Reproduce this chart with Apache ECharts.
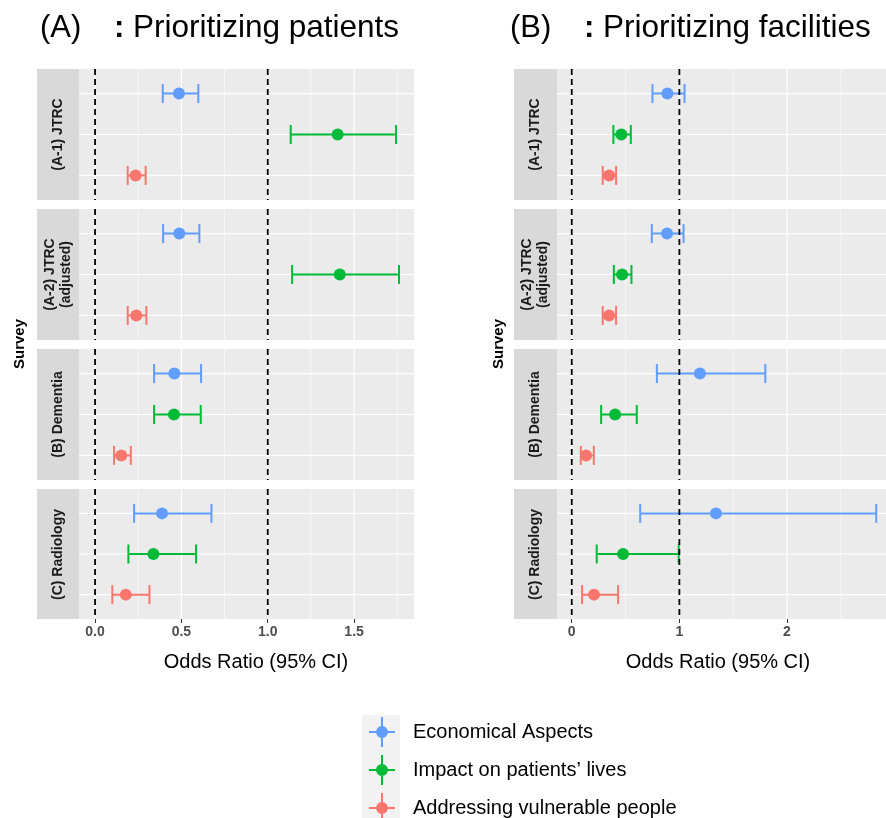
<!DOCTYPE html>
<html>
<head>
<meta charset="utf-8">
<script src="https://cdn.jsdelivr.net/npm/echarts@6/dist/echarts.min.js"></script>
<style>html,body{margin:0;padding:0;background:#fff}#c{width:886px;height:818px}</style>
</head>
<body>
<div id="c"></div>
<script>
// ---------- data ----------
const categories = ['Economical Aspects', 'Impact on patients’ lives', 'Addressing vulnerable people'];
const surveys = ['(A-1) JTRC', '(A-2) JTRC\n(adjusted)', '(B) Dementia', '(C) Radiology'];
const panelLetters = ['(A)', '(B)'];
const panelNames = ['Prioritizing patients', 'Prioritizing facilities'];
// rows: surveys, columns: categories
const patientsOR    = [[0.486, 1.405, 0.235], [0.488, 1.417, 0.239], [0.459, 0.457, 0.152], [0.388, 0.338, 0.178]];
const patientsLower = [[0.392, 1.133, 0.189], [0.394, 1.141, 0.189], [0.342, 0.342, 0.110], [0.226, 0.193, 0.100]];
const patientsUpper = [[0.598, 1.743, 0.293], [0.604, 1.760, 0.297], [0.614, 0.612, 0.207], [0.674, 0.585, 0.315]];
const facilitiesOR    = [[0.889, 0.461, 0.347], [0.886, 0.468, 0.347], [1.191, 0.403, 0.133], [1.340, 0.477, 0.207]];
const facilitiesLower = [[0.750, 0.387, 0.288], [0.744, 0.391, 0.288], [0.791, 0.273, 0.084], [0.636, 0.232, 0.096]];
const facilitiesUpper = [[1.048, 0.549, 0.412], [1.039, 0.555, 0.412], [1.799, 0.604, 0.205], [2.829, 0.994, 0.431]];
const patientsTicks = [0, 0.5, 1, 1.5];
const patientsMinor = [0.25, 0.75, 1.25, 1.75];
const facilitiesTicks = [0, 1, 2];
const facilitiesMinor = [0.5, 1.5, 2.5];
const refLines = [0, 1];
const xTitle = 'Odds Ratio (95% CI)';
const yTitle = 'Survey';

// ---------- layout / style ----------
const colors = ['#619CFF', '#00BA38', '#F8766D'];
const FONT = 'Liberation Sans, Arial, Noto Sans CJK JP, sans-serif';
const facetTops = [69, 209, 349, 489];
const facetH = 131;
const panels = [
  {left: 79, width: 335, stripLeft: 37, min: -0.093, max: 1.847, OR: patientsOR, lo: patientsLower, hi: patientsUpper,
   ticks: patientsTicks, minor: patientsMinor, fmt: v => v.toFixed(1), titleX: 40, xTitleX: 256, yTitleX: 20},
  {left: 557, width: 329, stripLeft: 514, min: -0.137, max: 2.92, OR: facilitiesOR, lo: facilitiesLower, hi: facilitiesUpper,
   ticks: facilitiesTicks, minor: facilitiesMinor, fmt: v => String(v), titleX: 510, xTitleX: 718, yTitleX: 499}
];

const grid = [], xAxis = [], yAxis = [], series = [], graphic = [];

function vLineRender(color, width, dash) {
  return function (params, api) {
    const cs = params.coordSys;
    const x = api.coord([api.value(0), 2])[0];
    return {type: 'line', shape: {x1: x, y1: cs.y, x2: x, y2: cs.y + cs.height},
      style: {stroke: color, lineWidth: width, lineDash: dash || null}};
  };
}
function hLineRender(params, api) {
  const cs = params.coordSys;
  const y = api.coord([0, api.value(1)])[1];
  return {type: 'line', shape: {x1: cs.x, y1: y, x2: cs.x + cs.width, y2: y},
    style: {stroke: '#ffffff', lineWidth: 1.2}};
}
function errRender(params, api) {
  const y = api.value(2);
  const p1 = api.coord([api.value(0), y]);
  const p2 = api.coord([api.value(1), y]);
  const h = 9.5;
  const style = {stroke: api.visual('color'), lineWidth: 2};
  return {type: 'group', children: [
    {type: 'line', shape: {x1: p1[0], y1: p1[1], x2: p2[0], y2: p2[1]}, style},
    {type: 'line', shape: {x1: p1[0], y1: p1[1] - h, x2: p1[0], y2: p1[1] + h}, style},
    {type: 'line', shape: {x1: p2[0], y1: p2[1] - h, x2: p2[0], y2: p2[1] + h}, style}
  ]};
}

panels.forEach((P, p) => {
  surveys.forEach((s, f) => {
    const gi = p * 4 + f;
    const last = f === surveys.length - 1;
    grid.push({left: P.left, top: facetTops[f], width: P.width, height: facetH - (last ? 1 : 0),
      show: true, backgroundColor: '#ebebeb', borderWidth: 0, containLabel: false});
    xAxis.push({type: 'value', gridIndex: gi, min: P.min, max: P.max,
      axisLine: {show: false}, splitLine: {show: false},
      axisTick: {show: last, length: 4, lineStyle: {color: '#333333', width: 1}, customValues: P.ticks},
      axisLabel: {show: last, customValues: P.ticks, formatter: v => P.fmt(v), margin: 6,
        fontFamily: FONT, fontSize: 14, fontWeight: 'bold', color: '#4d4d4d'}});
    yAxis.push({type: 'value', gridIndex: gi, min: 0.4, max: 3.6, inverse: true,
      axisLine: {show: false}, axisTick: {show: false}, axisLabel: {show: false}, splitLine: {show: false}});
    const ax = {xAxisIndex: gi, yAxisIndex: gi, silent: true, animation: false};
    series.push(Object.assign({type: 'custom', z: 1, renderItem: vLineRender('#ffffff', 0.6),
      data: P.minor.map(v => [v, 2])}, ax));
    series.push(Object.assign({type: 'custom', z: 1, renderItem: vLineRender('#ffffff', 1.2),
      data: P.ticks.map(v => [v, 2])}, ax));
    series.push(Object.assign({type: 'custom', z: 1, renderItem: hLineRender,
      data: categories.map((c, i) => [0, i + 1])}, ax));
    categories.forEach((c, i) => {
      series.push(Object.assign({type: 'custom', name: c, z: 2, renderItem: errRender,
        itemStyle: {color: colors[i]}, encode: {x: [0, 1], y: 2},
        data: [[P.lo[f][i], P.hi[f][i], i + 1]]}, ax));
    });
    series.push(Object.assign({type: 'custom', z: 3, renderItem: vLineRender('#000000', 1.8, [6, 4]),
      data: refLines.map(v => [v, 2])}, ax));
    categories.forEach((c, i) => {
      series.push(Object.assign({type: 'scatter', name: c, z: 4, symbol: 'circle', symbolSize: 12,
        itemStyle: {color: colors[i], opacity: 1},
        data: [[P.OR[f][i], i + 1]]}, ax));
    });
    // strip
    graphic.push({type: 'rect', silent: true, z: 0,
      shape: {x: P.stripLeft, y: facetTops[f], width: P.left - P.stripLeft, height: facetH - (last ? 1 : 0)},
      style: {fill: '#d9d9d9'}});
    graphic.push({type: 'text', silent: true, z: 1,
      x: (P.stripLeft + P.left) / 2, y: facetTops[f] + facetH / 2, rotation: Math.PI / 2,
      style: {text: s, fill: '#1a1a1a', font: 'bold 14px ' + FONT, align: 'center', verticalAlign: 'middle', lineHeight: 16}});
  });
  // panel heading: letter, colon, name
  graphic.push({type: 'text', silent: true, x: P.titleX, y: 28,
    style: {text: panelLetters[p], fill: '#000', font: '31px ' + FONT, align: 'left', verticalAlign: 'middle'}});
  graphic.push({type: 'text', silent: true, x: P.titleX + 74, y: 28,
    style: {text: ':', fill: '#000', font: 'bold 31px ' + FONT, align: 'left', verticalAlign: 'middle'}});
  graphic.push({type: 'text', silent: true, x: P.titleX + 93, y: 28,
    style: {text: panelNames[p], fill: '#000', font: '31.5px ' + FONT, align: 'left', verticalAlign: 'middle'}});
  graphic.push({type: 'text', silent: true, x: P.xTitleX, y: 662,
    style: {text: xTitle, fill: '#000', font: '20px ' + FONT, align: 'center', verticalAlign: 'middle'}});
  graphic.push({type: 'text', silent: true, x: P.yTitleX, y: 344, rotation: Math.PI / 2,
    style: {text: yTitle, fill: '#000', font: 'bold 15px ' + FONT, align: 'center', verticalAlign: 'middle'}});
});

// legend key background
graphic.push({type: 'rect', silent: true, z: 0, shape: {x: 362, y: 715, width: 38, height: 103}, style: {fill: '#f2f2f2'}});

const legend = categories.map((c, i) => ({
  data: [c], orient: 'vertical', left: 369, top: 717 + i * 38, padding: 0, z: 10,
  itemWidth: 26, itemHeight: 30, selectedMode: false,
  icon: 'path://M0,14H26V16H0Z M12,0H14V30H12Z M13,9A6,6 0 1,1 12.99,9Z',
  textStyle: {fontFamily: FONT, fontSize: 20, color: '#000', padding: [0, 0, 0, 13]}
}));

const option = {animation: false, grid, xAxis, yAxis, series, graphic, legend};
const chart = echarts.init(document.getElementById('c'), null, {renderer: 'canvas'});
chart.setOption(option);
</script>
</body>
</html>
